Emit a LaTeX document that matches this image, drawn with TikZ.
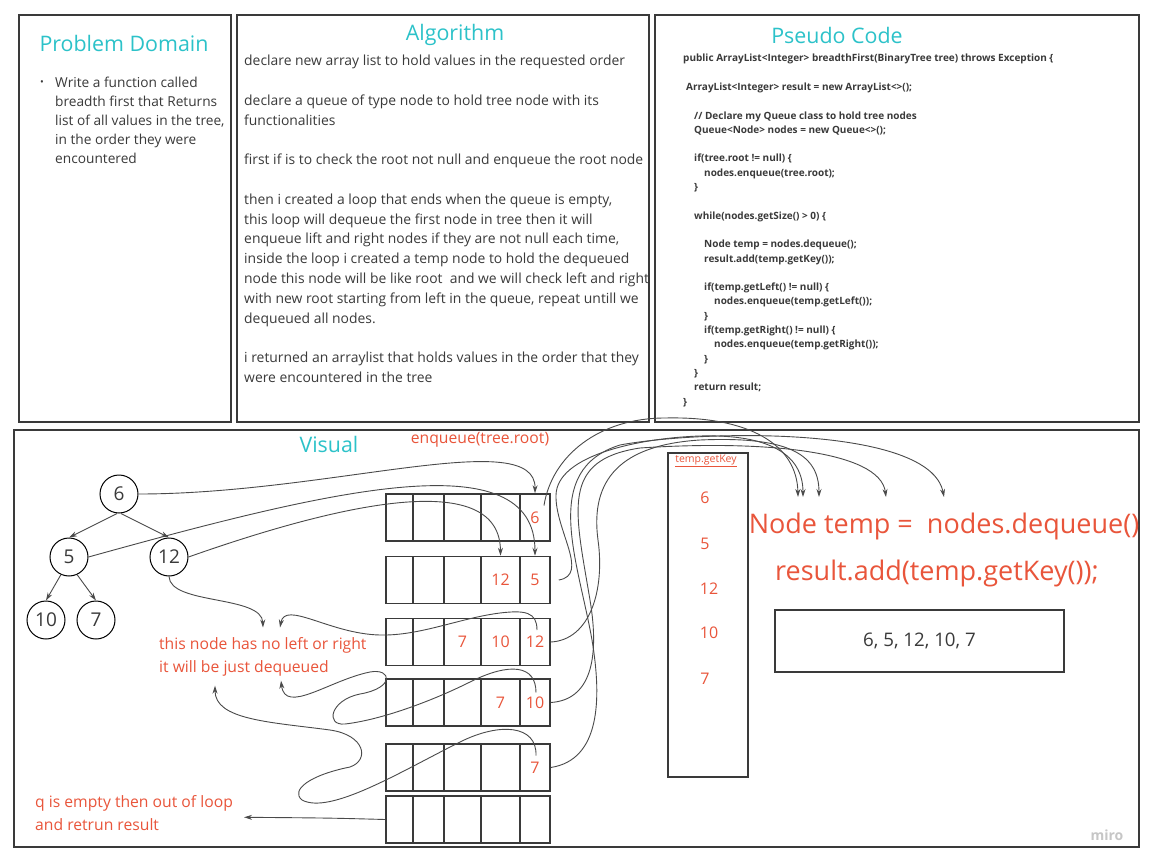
\documentclass[tikz,border=0pt]{standalone}
\usepackage{fontspec}
\setmainfont{Open Sans}
\usetikzlibrary{arrows.meta, positioning}

\definecolor{headcyan}{HTML}{2CC2C9}
\definecolor{notered}{HTML}{E9553B}
\definecolor{inkgray}{HTML}{3A3A3A}
\definecolor{wiregray}{HTML}{4A4A4A}

\tikzset{
  panel/.style={draw=inkgray, line width=1.3pt},
  heading/.style={text=headcyan, font=\fontsize{21.4}{25}\selectfont, inner sep=0pt},
  bodytext/.style={text=inkgray, align=left, inner sep=0pt, anchor=north west},
  treenode/.style={circle, draw=black, line width=1pt, minimum size=38pt, inner sep=0pt,
    text=inkgray, font=\fontsize{19}{22}\selectfont},
  qcell/.style={draw=inkgray, line width=1.5pt, minimum height=47pt, inner sep=0pt,
    text=notered, font=\fontsize{16}{19}\selectfont},
  redtext/.style={text=notered, font=\fontsize{15.7}{23}\selectfont, align=left, inner sep=0pt},
  wire/.style={draw=wiregray, line width=0.9pt, -{Stealth[length=8pt,width=5pt]}},
}

% one queue snapshot: name, y, then the five cell values
\newcommand{\qrow}[7]{%
  \node[qcell, minimum width=27pt] (#1c1) at (399.5,#2) {#3};
  \node[qcell, minimum width=31pt] (#1c2) at (428.5,#2) {#4};
  \node[qcell, minimum width=37pt] (#1c3) at (462.5,#2) {#5};
  \node[qcell, minimum width=39pt] (#1c4) at (500.5,#2) {#6};
  \node[qcell, minimum width=30pt] (#1c5) at (535,#2) {#7};
}

\begin{document}
\begin{tikzpicture}[x=1pt, y=-1pt]
  \fill[white] (0,0) rectangle (1152,867);
  \useasboundingbox (0,0) rectangle (1152,867);

  % top panels
  \draw[panel] (19,15) rectangle (231,422);
  \draw[panel] (237,15) rectangle (649,422);
  \draw[panel] (655,15) rectangle (1139,422);
  \draw[panel] (14,430) rectangle (1139,847);

  \node[heading] (domain) at (124,43) {Problem Domain};
  \node[heading] (algo) at (455,35) {Algorithm};
  \node[heading] (pseudo) at (837,35) {Pseudo Code};
  \node[heading] (visual) at (329,444) {Visual};

  \node[text=inkgray, font=\fontsize{10}{12}\selectfont] (bullet) at (42,83) {•};
  \node[bodytext, font=\fontsize{13.7}{19}\selectfont] (domaintext) at (55,77)
    {Write a function called\\breadth first that Returns\\list of all values in the tree,\\in the order they were\\encountered};

  \node[bodytext, font=\fontsize{13.9}{19.8}\selectfont] (algotext) at (244,55)
    {declare new array list to hold values in the requested order\\[19.8pt]
     declare a queue of type node to hold tree node with its\\
     functionalities\\[19.8pt]
     first if is to check the root not null and enqueue the root node\\[19.8pt]
     then i created a loop that ends when the queue is empty,\\
     this loop will dequeue the first node in tree then it will\\
     enqueue lift and right nodes if they are not null each time,\\
     inside the loop i created a temp node to hold the dequeued\\
     node this node will be like root \ and we will check left and right\\
     with new root starting from left in the queue, repeat untill we\\
     dequeued all nodes.\\[19.8pt]
     i returned an arraylist that holds values in the order that they\\
     were encountered in the tree};

  \node[bodytext, font=\bfseries\fontsize{10}{14.3}\selectfont] (code) at (683,54)
    {public ArrayList<Integer> breadthFirst(BinaryTree tree) throws Exception \{\\[14.3pt]
     \hspace*{3pt}ArrayList<Integer> result = new ArrayList<>();\\[14.3pt]
     \hspace*{11pt}// Declare my Queue class to hold tree nodes\\
     \hspace*{11pt}Queue<Node> nodes = new Queue<>();\\[14.3pt]
     \hspace*{11pt}if(tree.root != null) \{\\
     \hspace*{21pt}nodes.enqueue(tree.root);\\
     \hspace*{11pt}\}\\[14.3pt]
     \hspace*{11pt}while(nodes.getSize() > 0) \{\\[14.3pt]
     \hspace*{21pt}Node temp = nodes.dequeue();\\
     \hspace*{21pt}result.add(temp.getKey());\\[14.3pt]
     \hspace*{21pt}if(temp.getLeft() != null) \{\\
     \hspace*{31pt}nodes.enqueue(temp.getLeft());\\
     \hspace*{21pt}\}\\
     \hspace*{21pt}if(temp.getRight() != null) \{\\
     \hspace*{31pt}nodes.enqueue(temp.getRight());\\
     \hspace*{21pt}\}\\
     \hspace*{11pt}\}\\
     \hspace*{11pt}return result;\\
     \}};

  % the tree
  \node[treenode] (n6) at (119,494) {6};
  \node[treenode] (n5) at (69,557) {5};
  \node[treenode] (n12) at (169,557) {12};
  \node[treenode] (n10) at (46,620) {10};
  \node[treenode] (n7) at (96,620) {7};
  \draw[wire] ([xshift=-2pt]n6.south) -- (n5.north);
  \draw[wire] ([xshift=2pt]n6.south) -- (n12.north);
  \draw[wire] ([xshift=-8pt,yshift=2pt]n5.south) -- (n10.north);
  \draw[wire] ([xshift=8pt,yshift=2pt]n5.south) -- (n7.north);

  % queue snapshots
  \qrow{r1}{517.5}{}{}{}{}{6}
  \qrow{r2}{580}{}{}{}{12}{5}
  \qrow{r3}{642}{}{}{7}{10}{12}
  \qrow{r4}{702.5}{}{}{}{7}{10}
  \qrow{r5}{767.5}{}{}{}{}{7}
  \qrow{r6}{819.5}{}{}{}{}{}

  \node[redtext] (enq) at (480,440) {enqueue(tree.root)};
  \node[redtext, anchor=north west] (noleft) at (159,637.5)
    {this node has no left or right\\it will be just dequeued};
  \node[redtext, anchor=north west] (qempty) at (35,795.5)
    {q is empty then out of loop\\and retrun result};

  % temp.getKey column
  \node[draw=inkgray, line width=1.3pt, minimum width=80pt, minimum height=324pt] (keycol) at (708,615) {};
  \node[text=notered, font=\fontsize{10.5}{12}\selectfont, inner sep=0pt] (keylabel) at (706,461) {\underline{temp.getKey}};
  \node[text=notered, font=\fontsize{16}{19}\selectfont] (k6) at (705,498) {6};
  \node[text=notered, font=\fontsize{16}{19}\selectfont] (k5) at (705,544) {5};
  \node[text=notered, font=\fontsize{16}{19}\selectfont] (k12) at (709,589) {12};
  \node[text=notered, font=\fontsize{16}{19}\selectfont] (k10) at (709,633) {10};
  \node[text=notered, font=\fontsize{16}{19}\selectfont] (k7) at (705,679) {7};

  \node[text=notered, font=\fontsize{27}{31}\selectfont, inner sep=0pt] (deq) at (944,526) {Node temp =\ \ nodes.dequeue()};
  \node[text=notered, font=\fontsize{27}{31}\selectfont, inner sep=0pt] (addkey) at (937,573) {result.add(temp.getKey());};
  \node[draw=inkgray, line width=1.3pt, minimum width=289pt, minimum height=62pt,
    text=inkgray, font=\fontsize{18.7}{22}\selectfont] (result) at (919.5,641) {6, 5, 12, 10, 7};

  \node[text=gray!45, font=\bfseries\fontsize{14}{16}\selectfont] (miro) at (1107,835) {miro};

  % arrow ends above the dequeue line
  \coordinate (tipA) at (798,497);
  \coordinate (tipB) at (803,497);
  \coordinate (tipC) at (819,497);
  \coordinate (tipD) at (886,497);
  \coordinate (tipE) at (944,497);

  % enqueue steps
  \draw[wire] (n6.east) .. controls (330,494) and (536,425) .. (r1c5.north);
  \draw[wire] (n5.east) .. controls (330,490) and (535,440) .. (r2c5.north);
  \draw[wire] (n12.east) .. controls (350,500) and (500,470) .. (r2c4.north);
  \draw[wire] (n12.south) .. controls (170,605) and (262,595) .. ([xshift=104pt,yshift=10pt]noleft.north west);

  % leaves are only dequeued
  \draw[wire] ([xshift=2pt,yshift=12pt]r3c5.center) .. controls (537,612) and (525,610) .. (500,613)
    .. controls (460,618) and (420,636) .. (380,635)
    .. controls (330,634) and (285,600) .. ([xshift=121pt,yshift=10pt]noleft.north west);
  \draw[wire] ([xshift=1pt,yshift=10pt]r4c5.center) .. controls (536,665) and (510,662) .. (470,682)
    .. controls (430,702) and (380,720) .. (345,724)
    .. controls (325,726) and (330,700) .. (360,694)
    .. controls (395,688) and (392,668) .. (370,672)
    .. controls (330,680) and (285,715) .. ([xshift=122pt,yshift=-4pt]noleft.south west);
  \draw[wire] ([xshift=1pt,yshift=12pt]r5c5.center) .. controls (537,725) and (500,722) .. (460,742)
    .. controls (400,772) and (330,815) .. (302,800)
    .. controls (290,790) and (310,775) .. (350,767)
    .. controls (370,760) and (365,735) .. (330,730)
    .. controls (270,722) and (215,720) .. ([xshift=56pt,yshift=-9pt]noleft.south west);
  \draw[wire] (r6c1.west) .. controls (330,818) .. ([xshift=11pt,yshift=-4pt]qempty.east);

  % dequeue steps
  \draw[wire] ([xshift=9pt,yshift=12pt]r1c5.center) .. controls (552,455) and (600,418) .. (665,418)
    .. controls (750,416) and (797,445) .. (tipA);
  \draw[wire] ([xshift=8pt]r2c5.east) .. controls (590,575) and (555,530) .. (556,495)
    .. controls (557,455) and (640,438) .. (700,436)
    .. controls (770,434) and (803,455) .. (tipB);
  \draw[wire] (r3c5.east) .. controls (590,640) and (605,590) .. (598,540)
    .. controls (590,480) and (620,445) .. (700,440)
    .. controls (790,436) and (819,455) .. (tipC);
  \draw[wire] (r4c5.east) .. controls (590,700) and (600,660) .. (590,600)
    .. controls (575,510) and (560,460) .. (640,448)
    .. controls (760,440) and (880,450) .. (tipD);
  \draw[wire] (r5c5.east) .. controls (600,760) and (602,700) .. (592,640)
    .. controls (578,560) and (540,470) .. (620,445)
    .. controls (700,430) and (930,425) .. (tipE);
\end{tikzpicture}
\end{document}
